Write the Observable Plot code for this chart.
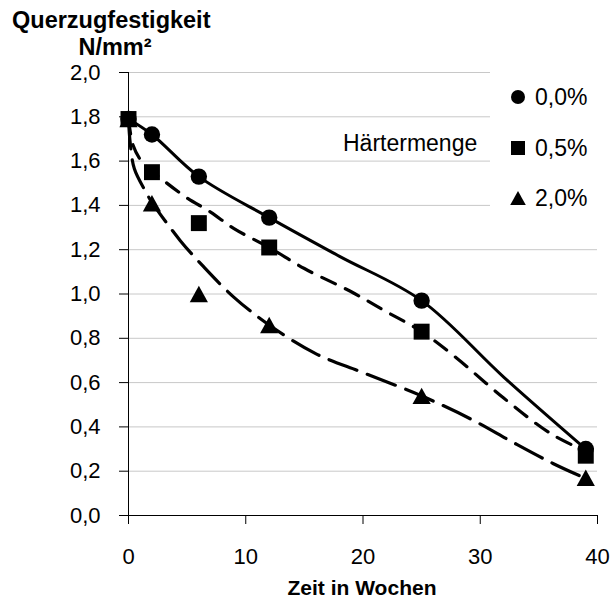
<!DOCTYPE html>
<html><head><meta charset="utf-8">
<script src="https://cdn.jsdelivr.net/npm/d3@7"></script>
<script src="https://cdn.jsdelivr.net/npm/@observablehq/plot@0.6"></script>
<style>
body{margin:0;background:#fff;}
#wrap{position:relative;width:612px;height:600px;font-family:"Liberation Sans",Arial,sans-serif;}
#overlay{position:absolute;left:0;top:0;pointer-events:none;}
</style></head><body><div id="wrap"></div>
<script>
// measured points
const weeks = [0, 2, 6, 12, 25, 39];
const strength00 = [1.79, 1.72, 1.53, 1.345, 0.97, 0.30];
const strength05 = [1.79, 1.55, 1.32, 1.21, 0.83, 0.27];
const strength20 = [1.79, 1.41, 1.00, 0.86, 0.54, 0.17];
// trend curves
const fitWeeks00 = [0, 2, 6, 12, 18, 25, 32, 39];
const fit00 = [1.79, 1.72, 1.53, 1.345, 1.17, 0.97, 0.625, 0.30];
const fitWeeks05 = [0, 0.4, 1.1, 2, 4.9, 7, 9, 12, 15, 19, 22, 25, 28, 32, 36, 39];
const fit05 = [1.79, 1.67, 1.60, 1.555, 1.437, 1.37, 1.295, 1.21, 1.115, 1.01, 0.92, 0.83, 0.71, 0.53, 0.37, 0.29];
const fitWeeks20 = [0, 0.15, 0.5, 1.55, 2, 4.4, 6.3, 9, 12, 16, 20, 25, 29.4, 32.8, 36.2, 39];
const fit20 = [1.79, 1.68, 1.565, 1.454, 1.414, 1.242, 1.129, 0.985, 0.86, 0.73, 0.645, 0.54, 0.43, 0.33, 0.235, 0.167];
const seriesLabels = ["0,0%", "0,5%", "2,0%"];
const legendTitle = "Härtermenge";
const yTitle = ["Querzugfestigkeit", "N/mm²"];
const xTitle = "Zeit in Wochen";
const xTicks = [0, 10, 20, 30, 40];
const yTicks = [0, 0.2, 0.4, 0.6, 0.8, 1.0, 1.2, 1.4, 1.6, 1.8, 2.0];

const pts = (xs, ys) => xs.map((x, i) => ({x, y: ys[i]}));
const fmt = d => d.toFixed(1).replace(".", ",");

// triangle centred on its bounding box
const tri = {
  draw(ctx, size) {
    const r = Math.sqrt(size / Math.PI);
    const h = r * 2.35, w = r * 2.6;
    ctx.moveTo(0, -h / 2); ctx.lineTo(w / 2, h / 2); ctx.lineTo(-w / 2, h / 2); ctx.closePath();
  }
};

const chart = Plot.plot({
  width: 612, height: 600,
  marginLeft: 128, marginRight: 15, marginTop: 72, marginBottom: 85,
  style: {fontFamily: "Liberation Sans, Arial, sans-serif", fontSize: "22px", color: "#000", background: "#fff"},
  x: {domain: [0, 40]},
  y: {domain: [0, 2]},
  marks: [
    Plot.ruleY(yTicks.filter(d => d > 0), {stroke: "#c8c8c8", strokeWidth: 1}),
    Plot.axisY({ticks: yTicks, tickSize: 9, tickPadding: 19, tickFormat: fmt, label: null, strokeWidth: 1}),
    Plot.axisX({ticks: xTicks, tickSize: 9, tickPadding: 24, label: null, strokeWidth: 1}),
    Plot.ruleX([0], {stroke: "#000"}),
    Plot.ruleY([0], {stroke: "#000"}),
    Plot.line(pts(fitWeeks20, fit20), {x: "x", y: "y", stroke: "#000", strokeWidth: 3.2, strokeDasharray: "30,11", curve: "catmull-rom"}),
    Plot.line(pts(fitWeeks05, fit05), {x: "x", y: "y", stroke: "#000", strokeWidth: 3.2, strokeDasharray: "15,11", curve: "catmull-rom"}),
    Plot.line(pts(fitWeeks00, fit00), {x: "x", y: "y", stroke: "#000", strokeWidth: 3, curve: "catmull-rom"}),
    Plot.dot(pts(weeks, strength20), {x: "x", y: "y", symbol: tri, r: 7, fill: "#000", stroke: "none"}),
    Plot.dot(pts(weeks, strength00), {x: "x", y: "y", symbol: "circle", r: 8.2, fill: "#000", stroke: "none"}),
    Plot.dot(pts(weeks, strength05), {x: "x", y: "y", symbol: "square", r: 9, fill: "#000", stroke: "none"})
  ]
});
const wrap = document.getElementById("wrap");
wrap.appendChild(chart);

// titles and legend
const o = d3.select(wrap).append("svg").attr("id", "overlay").attr("width", 612).attr("height", 600)
  .style("font-family", "Liberation Sans, Arial, sans-serif");
o.append("text").attr("x", 12).attr("y", 28).attr("font-weight", "bold").attr("font-size", 23.5).text(yTitle[0]);
o.append("text").attr("x", 115).attr("y", 55).attr("text-anchor", "middle").attr("font-weight", "bold").attr("font-size", 23.5).text(yTitle[1]);
o.append("text").attr("x", 362).attr("y", 595).attr("text-anchor", "middle").attr("font-weight", "bold").attr("font-size", 21).text(xTitle);
o.append("rect").attr("x", 490).attr("y", 66).attr("width", 122).attr("height", 162).attr("fill", "#fff");
o.append("text").attr("x", 343).attr("y", 150.5).attr("font-size", 23).text(legendTitle);
const syms = [d3.symbolCircle, d3.symbolSquare, tri];
const symSizes = [Math.PI * 7 * 7, 14 * 14, Math.PI * 6 * 6];
const rowY = [97, 148, 198];
const rowBase = [105, 156, 206];
seriesLabels.forEach((lab, i) => {
  o.append("path").attr("d", d3.symbol(syms[i], symSizes[i])()).attr("transform", `translate(518,${rowY[i]})`).attr("fill", "#000");
  o.append("text").attr("x", 535).attr("y", rowBase[i]).attr("font-size", 23).text(lab);
});
</script></body></html>
